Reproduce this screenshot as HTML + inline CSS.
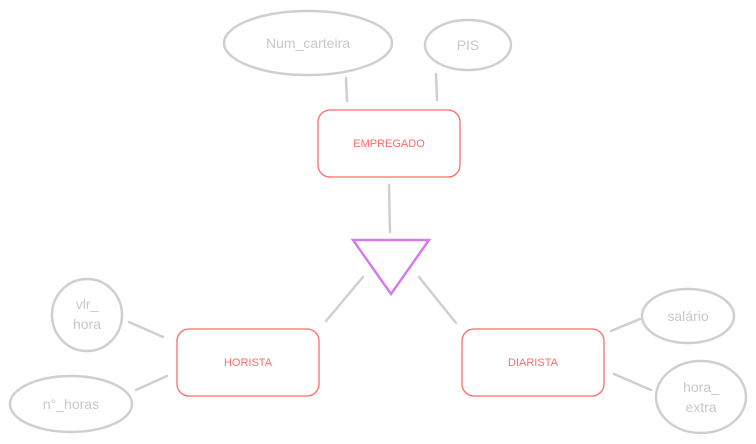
<!DOCTYPE html>
<html><head><meta charset="utf-8"><style>
html,body{margin:0;padding:0;background:#fff;}
svg{display:block;}
text{font-family:"Liberation Sans",sans-serif;}
</style></head><body>
<svg width="756" height="444" viewBox="0 0 756 444" xmlns="http://www.w3.org/2000/svg">
<g fill="none" stroke="#cfcfcf" stroke-width="2.5" stroke-linecap="round">
<ellipse cx="308" cy="43" rx="84" ry="32"/>
<ellipse cx="468" cy="45" rx="43" ry="25"/>
<ellipse cx="87" cy="315" rx="35" ry="36"/>
<ellipse cx="71" cy="404" rx="61" ry="28"/>
<ellipse cx="688" cy="316" rx="46" ry="27"/>
<ellipse cx="701" cy="397" rx="45" ry="36"/>
<line x1="346" y1="78" x2="347" y2="101"/>
<line x1="436" y1="74" x2="437" y2="100"/>
<line x1="389" y1="185" x2="390" y2="232"/>
<line x1="363" y1="277" x2="326" y2="321"/>
<line x1="419" y1="277" x2="456" y2="323"/>
<line x1="129" y1="322" x2="163" y2="337"/>
<line x1="136" y1="390" x2="167" y2="376"/>
<line x1="611" y1="331" x2="640" y2="319"/>
<line x1="614" y1="374" x2="651" y2="390"/>
</g>
<g fill="none" stroke="#ff6b6b" stroke-width="1.3">
<rect x="318" y="110" width="142" height="67" rx="12"/>
<rect x="177" y="329" width="142" height="67" rx="12"/>
<rect x="462" y="329" width="142" height="67" rx="12"/>
</g>
<polygon points="353,240 429,240 391,294" fill="none" stroke="#d57bf0" stroke-width="2.5"/>
<g fill="#ff6b6b" font-size="11" text-anchor="middle">
<text x="389" y="147">EMPREGADO</text>
<text x="248" y="366">HORISTA</text>
<text x="533" y="366">DIARISTA</text>
</g>
<g fill="#c8c8c8" font-size="14" text-anchor="middle">
<text x="308" y="48">Num_carteira</text>
<text x="468" y="50">PIS</text>
<text x="87" y="309">vlr_</text>
<text x="87" y="329">hora</text>
<text x="71" y="409">n°_horas</text>
<text x="688" y="321">salário</text>
<text x="701" y="392">hora_</text>
<text x="701" y="412">extra</text>
</g>
</svg>
</body></html>
